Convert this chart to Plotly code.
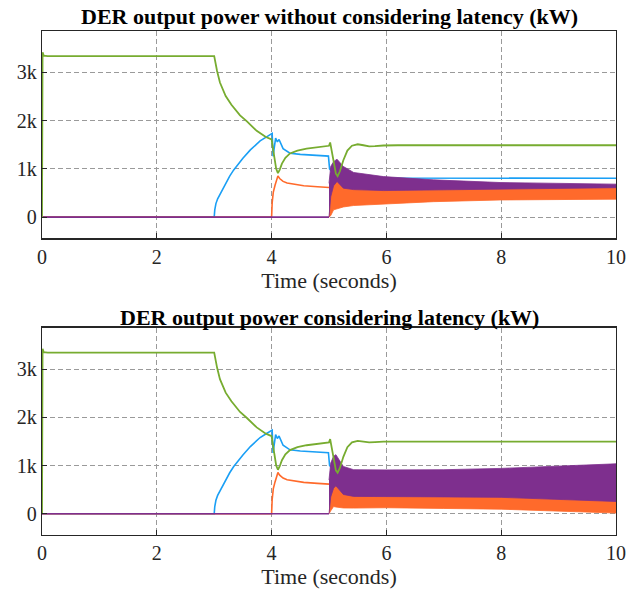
import plotly.graph_objects as go

# ---------------- data ----------------
x_ticks = [0, 2, 4, 6, 8, 10]
y_tickvals = [0, 1000, 2000, 3000]
y_ticktext = ["0", "1k", "2k", "3k"]

titles = ["DER output power without considering latency (kW)",
          "DER output power considering latency (kW)"]
x_title = "Time (seconds)"

# green DER
green_t = [0, 0.01, 0.03, 0.1, 3.0, 3.02, 3.05, 3.1, 3.15, 3.2, 3.3, 3.45, 3.57, 3.74,
           3.9, 4.0, 4.02, 4.05, 4.08, 4.11, 4.14, 4.18, 4.24, 4.32, 4.45, 4.61, 4.8,
           5.0, 5.02, 5.05, 5.08, 5.12, 5.15, 5.19, 5.25, 5.32, 5.4, 5.5, 5.6, 5.7,
           5.8, 5.95, 6.2, 10.0]
green_top = [0, 3420, 3350, 3340, 3340, 3210, 3030, 2790, 2640, 2510, 2330, 2110, 1985,
             1790, 1660, 1610, 1450, 1200, 1000, 913, 980, 1110, 1230, 1320, 1380, 1420,
             1455, 1479, 1548, 1350, 1100, 900, 850, 950, 1180, 1380, 1480, 1510, 1490,
             1465, 1470, 1485, 1490, 1490]
green_bottom = [0, 3420, 3350, 3340, 3340, 3210, 3030, 2790, 2640, 2510, 2330, 2110,
                1985, 1790, 1660, 1610, 1450, 1200, 1000, 913, 980, 1110, 1230, 1320,
                1380, 1420, 1455, 1479, 1548, 1350, 1100, 900, 850, 950, 1180, 1380,
                1480, 1510, 1495, 1480, 1485, 1495, 1495, 1495]

# blue DER
blue_t = [0, 3.0, 3.01, 3.03, 3.06, 3.1, 3.15, 3.2, 3.27, 3.34, 3.42, 3.5, 3.63, 3.72,
          3.8, 3.92, 4.01, 4.025, 4.04, 4.07, 4.1, 4.13, 4.2, 4.32, 4.5, 4.99, 5.01,
          5.05, 5.15, 5.3, 5.6, 10.0]
blue_v = [0, 0, 150, 280, 380, 470, 590, 700, 850, 979, 1110, 1220, 1393, 1490,
          1580, 1669, 1735, 1260, 1400, 1640, 1560, 1610, 1420, 1325, 1300, 1265, 1000,
          950, 880, 830, 810, 805]

# orange DER (smooth part before t = 5 s)
orange_t = [0, 4.0, 4.01, 4.03, 4.06, 4.09, 4.11, 4.14, 4.2, 4.27, 4.4, 4.56, 4.8, 5.0]
orange_v = [0, 0, 300, 520, 660, 800, 855, 800, 740, 705, 675, 650, 630, 615]

# purple DER (flat part before t = 5 s)
purple_t = [0, 5.0]
purple_v = [0, 0]

# oscillation envelopes, top panel
band_t_top = [5.0, 5.03, 5.08, 5.14, 5.25, 5.43, 5.95, 6.82, 7.98, 10.0]
purple_up_top = [700, 1050, 1150, 1200, 1050, 925, 840, 772, 717, 683]
purple_lo_top = [0, 420, 650, 740, 600, 570, 550, 560, 580, 610]
orange_up_top = [615, 650, 700, 760, 640, 600, 570, 580, 600, 620]
orange_lo_top = [0, 30, 150, 180, 210, 240, 270, 320, 355, 372]

# oscillation envelopes, bottom panel
band_t_bot = [5.0, 5.03, 5.08, 5.12, 5.25, 5.43, 6.0, 7.0, 8.0, 9.0, 10.0]
purple_up_bot = [700, 1050, 1190, 1225, 981, 913, 909, 913, 940, 980, 1035]
purple_lo_bot = [0, 350, 530, 580, 400, 360, 350, 350, 340, 300, 255]
orange_up_bot = [615, 600, 560, 600, 420, 380, 360, 360, 350, 310, 270]
orange_lo_bot = [0, 60, 150, 140, 120, 118, 125, 110, 95, 50, 15]

# ---------------- style ----------------
C_BLUE = "#1a9ff5"
C_ORANGE = "#ff6a2b"
C_PURPLE = "#7e2f8e"
C_GREEN = "#77ac30"
FONT = "Liberation Serif"

fig = go.Figure()


def band(t, up, lo, color, xa, ya):
    return go.Scatter(x=list(t) + list(t)[::-1], y=list(up) + list(lo)[::-1],
                      fill="toself", fillcolor=color, mode="lines",
                      line=dict(color=color, width=0.8), xaxis=xa, yaxis=ya,
                      hoverinfo="skip", showlegend=False)


def line(t, v, color, xa, ya, w=1.6):
    return go.Scatter(x=t, y=v, mode="lines", line=dict(color=color, width=w),
                      xaxis=xa, yaxis=ya, showlegend=False)


panels = [("x", "y", green_top, band_t_top, purple_up_top, purple_lo_top,
           orange_up_top, orange_lo_top),
          ("x2", "y2", green_bottom, band_t_bot, purple_up_bot, purple_lo_bot,
           orange_up_bot, orange_lo_bot)]

for xa, ya, g, bt, pu, pl, ou, ol in panels:
    fig.add_trace(line(blue_t, blue_v, C_BLUE, xa, ya))
    fig.add_trace(line(orange_t, orange_v, C_ORANGE, xa, ya))
    fig.add_trace(band(bt, ou, ol, C_ORANGE, xa, ya))
    fig.add_trace(line(purple_t, purple_v, C_PURPLE, xa, ya))
    fig.add_trace(band(bt, pu, pl, C_PURPLE, xa, ya))
    fig.add_trace(line(green_t, g, C_GREEN, xa, ya, w=1.8))

axis_common = dict(showline=True, linecolor="#262626", linewidth=1.3, mirror=True,
                   ticks="inside", ticklen=5, tickcolor="#262626",
                   showgrid=True, gridcolor="#9a9a9a", gridwidth=1,
                   griddash="5px,3px", zeroline=False, automargin=False,
                   tickfont=dict(family=FONT, size=20, color="#262626"))

xcommon = dict(axis_common, range=[0, 10], tickvals=x_ticks,
               title=dict(text=x_title, font=dict(family=FONT, size=22, color="#262626"),
                          standoff=4))
ycommon = dict(axis_common, range=[-440, 3860], tickvals=y_tickvals, ticktext=y_ticktext)

top_dom = [0.5887, 1.0]
bot_dom = [0.0, 0.4117]

fig.update_layout(
    width=628, height=595,
    margin=dict(l=42, r=12, t=31, b=60),
    paper_bgcolor="white", plot_bgcolor="white",
    hovermode=False,
    xaxis=dict(xcommon, domain=[0, 1], anchor="y"),
    yaxis=dict(ycommon, domain=top_dom, anchor="x"),
    xaxis2=dict(xcommon, domain=[0, 1], anchor="y2"),
    yaxis2=dict(ycommon, domain=bot_dom, anchor="x2"),
    annotations=[
        dict(text="<b>" + titles[0] + "</b>", xref="paper", yref="paper",
             x=0.5, y=1.0278, xanchor="center", yanchor="middle", showarrow=False,
             font=dict(family=FONT, size=22, color="black")),
        dict(text="<b>" + titles[1] + "</b>", xref="paper", yref="paper",
             x=0.5, y=0.4306, xanchor="center", yanchor="middle", showarrow=False,
             font=dict(family=FONT, size=22, color="black")),
    ],
)

fig.write_html("out.html", config={"displayModeBar": False, "staticPlot": True},
               post_script="document.body.style.margin='0px';document.body.style.overflow='hidden';")
